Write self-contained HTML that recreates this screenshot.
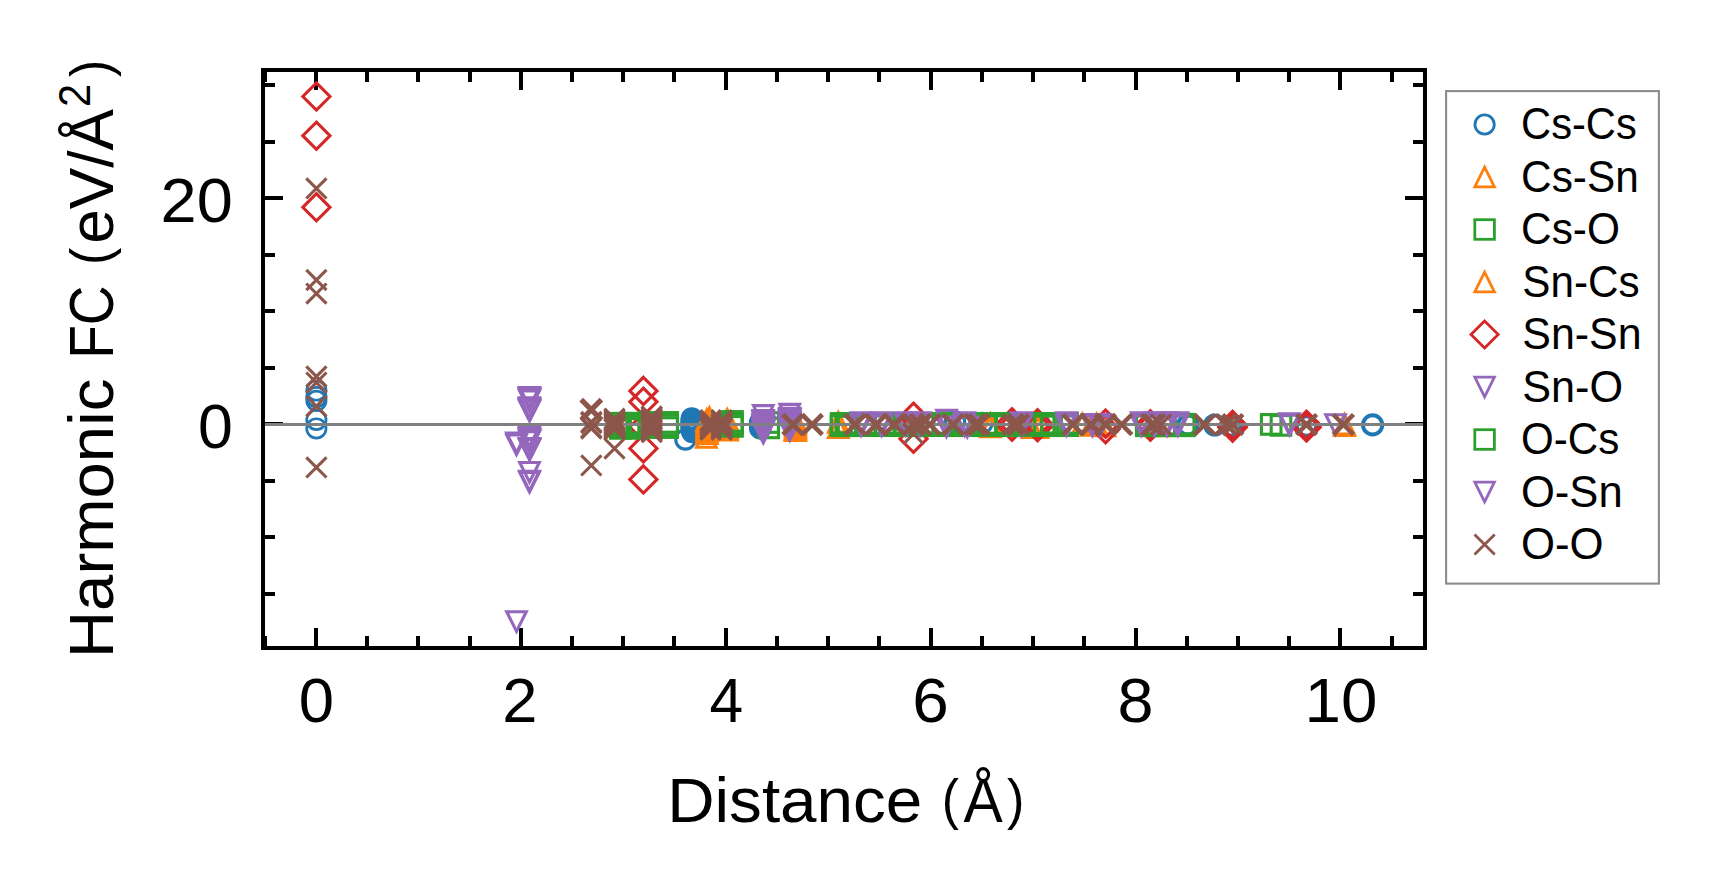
<!DOCTYPE html>
<html lang="en"><head><meta charset="utf-8"><title>Harmonic FC vs Distance</title>
<style>html,body{margin:0;padding:0;background:#fff}svg{display:block}text{font-family:"Liberation Sans",sans-serif;fill:#000}</style></head><body>
<svg width="1718" height="893" viewBox="0 0 1718 893">
<rect width="1718" height="893" fill="#fff"/>
<path d="M316 648.0v-20M316 70.0v20M521 648.0v-20M521 70.0v20M726 648.0v-20M726 70.0v20M931 648.0v-20M931 70.0v20M1136 648.0v-20M1136 70.0v20M1340 648.0v-20M1340 70.0v20M265 648.0v-12M265 70.0v12M367 648.0v-12M367 70.0v12M418 648.0v-12M418 70.0v12M470 648.0v-12M470 70.0v12M572 648.0v-12M572 70.0v12M623 648.0v-12M623 70.0v12M674 648.0v-12M674 70.0v12M777 648.0v-12M777 70.0v12M828 648.0v-12M828 70.0v12M879 648.0v-12M879 70.0v12M982 648.0v-12M982 70.0v12M1033 648.0v-12M1033 70.0v12M1084 648.0v-12M1084 70.0v12M1187 648.0v-12M1187 70.0v12M1238 648.0v-12M1238 70.0v12M1289 648.0v-12M1289 70.0v12M1392 648.0v-12M1392 70.0v12M263.0 424h20M1425.0 424h-20M263.0 198h20M1425.0 198h-20M263.0 594h12M1425.0 594h-12M263.0 537h12M1425.0 537h-12M263.0 481h12M1425.0 481h-12M263.0 368h12M1425.0 368h-12M263.0 311h12M1425.0 311h-12M263.0 255h12M1425.0 255h-12M263.0 142h12M1425.0 142h-12M263.0 85h12M1425.0 85h-12" stroke="#000" stroke-width="4" fill="none"/>
<clipPath id="ax"><rect x="263.0" y="70.0" width="1162.0" height="578.0"/></clipPath>
<g clip-path="url(#ax)" stroke-linejoin="miter" stroke-miterlimit="10">
<g>
<circle cx="316.4" cy="390.6" r="9.65" stroke="#1f77b4" stroke-width="2.7" fill="none"/>
<circle cx="316.4" cy="397.1" r="9.65" stroke="#1f77b4" stroke-width="2.7" fill="none"/>
<circle cx="316.4" cy="400.8" r="9.65" stroke="#1f77b4" stroke-width="2.7" fill="none"/>
<circle cx="316.4" cy="419.9" r="9.65" stroke="#1f77b4" stroke-width="2.7" fill="none"/>
<circle cx="316.4" cy="428.4" r="9.65" stroke="#1f77b4" stroke-width="2.7" fill="none"/>
<circle cx="685.4" cy="439.5" r="9.65" stroke="#1f77b4" stroke-width="3.1" fill="none"/>
<circle cx="691.8" cy="418.4" r="9.65" stroke="#1f77b4" stroke-width="3.1" fill="none"/>
<circle cx="691.8" cy="419.7" r="9.65" stroke="#1f77b4" stroke-width="3.1" fill="none"/>
<circle cx="691.8" cy="421.0" r="9.65" stroke="#1f77b4" stroke-width="3.1" fill="none"/>
<circle cx="691.8" cy="422.3" r="9.65" stroke="#1f77b4" stroke-width="3.1" fill="none"/>
<circle cx="691.8" cy="423.6" r="9.65" stroke="#1f77b4" stroke-width="3.1" fill="none"/>
<circle cx="691.8" cy="425.0" r="9.65" stroke="#1f77b4" stroke-width="3.1" fill="none"/>
<circle cx="691.8" cy="426.3" r="9.65" stroke="#1f77b4" stroke-width="3.1" fill="none"/>
<circle cx="691.8" cy="427.6" r="9.65" stroke="#1f77b4" stroke-width="3.1" fill="none"/>
<circle cx="691.8" cy="428.9" r="9.65" stroke="#1f77b4" stroke-width="3.1" fill="none"/>
<circle cx="691.8" cy="430.2" r="9.65" stroke="#1f77b4" stroke-width="3.1" fill="none"/>
<circle cx="692.3" cy="432.0" r="9.65" stroke="#1f77b4" stroke-width="3.1" fill="none"/>
<circle cx="760.3" cy="422.1" r="9.65" stroke="#1f77b4" stroke-width="3.1" fill="none"/>
<circle cx="760.3" cy="422.9" r="9.65" stroke="#1f77b4" stroke-width="3.1" fill="none"/>
<circle cx="760.3" cy="425.1" r="9.65" stroke="#1f77b4" stroke-width="3.1" fill="none"/>
<circle cx="760.3" cy="425.9" r="9.65" stroke="#1f77b4" stroke-width="3.1" fill="none"/>
<circle cx="760.3" cy="427.6" r="9.65" stroke="#1f77b4" stroke-width="3.1" fill="none"/>
<circle cx="760.3" cy="428.4" r="9.65" stroke="#1f77b4" stroke-width="3.1" fill="none"/>
<circle cx="913.5" cy="425.0" r="9.65" stroke="#1f77b4" stroke-width="3.1" fill="none"/>
<circle cx="955.0" cy="421.5" r="9.65" stroke="#1f77b4" stroke-width="3.1" fill="none"/>
<circle cx="982.5" cy="423.0" r="9.65" stroke="#1f77b4" stroke-width="3.1" fill="none"/>
<circle cx="1040.0" cy="425.0" r="9.65" stroke="#1f77b4" stroke-width="3.1" fill="none"/>
<circle cx="1187.8" cy="424.9" r="9.65" stroke="#1f77b4" stroke-width="3.9" fill="none"/>
<circle cx="1214.7" cy="425.0" r="9.65" stroke="#1f77b4" stroke-width="3.9" fill="none"/>
<circle cx="1231.0" cy="426.0" r="9.65" stroke="#1f77b4" stroke-width="3.9" fill="none"/>
<circle cx="1306.5" cy="426.0" r="9.65" stroke="#1f77b4" stroke-width="3.9" fill="none"/>
<circle cx="1372.6" cy="424.9" r="9.65" stroke="#1f77b4" stroke-width="3.9" fill="none"/>
</g>
<g>
<path d="M709.4 407.9L699.6 427.5L719.2 427.5Z" stroke="#ff7f0e" stroke-width="3.1" fill="none"/>
<path d="M706.8 410.0L697.0 429.6L716.6 429.6Z" stroke="#ff7f0e" stroke-width="3.1" fill="none"/>
<path d="M707.0 411.2L697.2 430.8L716.8 430.8Z" stroke="#ff7f0e" stroke-width="3.1" fill="none"/>
<path d="M707.0 412.6L697.2 432.2L716.8 432.2Z" stroke="#ff7f0e" stroke-width="3.1" fill="none"/>
<path d="M707.0 414.0L697.2 433.6L716.8 433.6Z" stroke="#ff7f0e" stroke-width="3.1" fill="none"/>
<path d="M707.0 415.4L697.2 435.0L716.8 435.0Z" stroke="#ff7f0e" stroke-width="3.1" fill="none"/>
<path d="M707.0 416.8L697.2 436.4L716.8 436.4Z" stroke="#ff7f0e" stroke-width="3.1" fill="none"/>
<path d="M707.0 418.2L697.2 437.8L716.8 437.8Z" stroke="#ff7f0e" stroke-width="3.1" fill="none"/>
<path d="M707.0 419.6L697.2 439.2L716.8 439.2Z" stroke="#ff7f0e" stroke-width="3.1" fill="none"/>
<path d="M707.0 421.0L697.2 440.6L716.8 440.6Z" stroke="#ff7f0e" stroke-width="3.1" fill="none"/>
<path d="M707.0 422.4L697.2 442.0L716.8 442.0Z" stroke="#ff7f0e" stroke-width="3.1" fill="none"/>
<path d="M707.0 423.8L697.2 443.4L716.8 443.4Z" stroke="#ff7f0e" stroke-width="3.1" fill="none"/>
<path d="M706.3 427.6L696.5 447.2L716.1 447.2Z" stroke="#ff7f0e" stroke-width="3.1" fill="none"/>
<path d="M727.2 409.6L717.4 429.2L737.0 429.2Z" stroke="#ff7f0e" stroke-width="3.1" fill="none"/>
<path d="M727.2 410.9L717.4 430.6L737.0 430.6Z" stroke="#ff7f0e" stroke-width="3.1" fill="none"/>
<path d="M727.2 412.3L717.4 431.9L737.0 431.9Z" stroke="#ff7f0e" stroke-width="3.1" fill="none"/>
<path d="M727.2 413.6L717.4 433.2L737.0 433.2Z" stroke="#ff7f0e" stroke-width="3.1" fill="none"/>
<path d="M727.2 415.0L717.4 434.6L737.0 434.6Z" stroke="#ff7f0e" stroke-width="3.1" fill="none"/>
<path d="M727.2 416.3L717.4 435.9L737.0 435.9Z" stroke="#ff7f0e" stroke-width="3.1" fill="none"/>
<path d="M727.2 417.7L717.4 437.3L737.0 437.3Z" stroke="#ff7f0e" stroke-width="3.1" fill="none"/>
<path d="M727.2 419.0L717.4 438.6L737.0 438.6Z" stroke="#ff7f0e" stroke-width="3.1" fill="none"/>
<path d="M727.2 420.4L717.4 440.0L737.0 440.0Z" stroke="#ff7f0e" stroke-width="3.1" fill="none"/>
<path d="M795.5 411.2L785.7 430.8L805.3 430.8Z" stroke="#ff7f0e" stroke-width="3.1" fill="none"/>
<path d="M795.5 412.8L785.7 432.4L805.3 432.4Z" stroke="#ff7f0e" stroke-width="3.1" fill="none"/>
<path d="M795.5 414.4L785.7 434.0L805.3 434.0Z" stroke="#ff7f0e" stroke-width="3.1" fill="none"/>
<path d="M795.5 416.0L785.7 435.6L805.3 435.6Z" stroke="#ff7f0e" stroke-width="3.1" fill="none"/>
<path d="M795.5 417.6L785.7 437.2L805.3 437.2Z" stroke="#ff7f0e" stroke-width="3.1" fill="none"/>
<path d="M795.5 419.2L785.7 438.8L805.3 438.8Z" stroke="#ff7f0e" stroke-width="3.1" fill="none"/>
<path d="M795.5 420.8L785.7 440.4L805.3 440.4Z" stroke="#ff7f0e" stroke-width="3.1" fill="none"/>
<path d="M795.2 420.0L785.4 439.6L805.0 439.6Z" stroke="#ff7f0e" stroke-width="3.1" fill="none"/>
<path d="M838.3 412.5L828.5 432.1L848.1 432.1Z" stroke="#ff7f0e" stroke-width="3.1" fill="none"/>
<path d="M838.3 417.8L828.5 437.4L848.1 437.4Z" stroke="#ff7f0e" stroke-width="3.1" fill="none"/>
<path d="M990.5 413.9L980.7 433.5L1000.3 433.5Z" stroke="#ff7f0e" stroke-width="3.1" fill="none"/>
<path d="M990.5 417.1L980.7 436.7L1000.3 436.7Z" stroke="#ff7f0e" stroke-width="3.1" fill="none"/>
<path d="M1030.0 414.2L1020.2 433.8L1039.8 433.8Z" stroke="#ff7f0e" stroke-width="3.1" fill="none"/>
<path d="M1032.0 417.8L1022.2 437.4L1041.8 437.4Z" stroke="#ff7f0e" stroke-width="3.1" fill="none"/>
<path d="M1038.0 417.8L1028.2 437.4L1047.8 437.4Z" stroke="#ff7f0e" stroke-width="3.1" fill="none"/>
<path d="M1082.4 414.2L1072.6 433.8L1092.2 433.8Z" stroke="#ff7f0e" stroke-width="3.1" fill="none"/>
<path d="M1096.5 414.2L1086.7 433.8L1106.3 433.8Z" stroke="#ff7f0e" stroke-width="3.1" fill="none"/>
<path d="M1091.2 415.7L1081.4 435.3L1101.0 435.3Z" stroke="#ff7f0e" stroke-width="3.1" fill="none"/>
<path d="M1105.0 416.2L1095.2 435.8L1114.8 435.8Z" stroke="#ff7f0e" stroke-width="3.1" fill="none"/>
<path d="M1160.0 416.2L1150.2 435.8L1169.8 435.8Z" stroke="#ff7f0e" stroke-width="3.1" fill="none"/>
<path d="M1344.5 414.5L1334.7 434.1L1354.3 434.1Z" stroke="#ff7f0e" stroke-width="3.1" fill="none"/>
<path d="M1344.5 415.8L1334.7 435.4L1354.3 435.4Z" stroke="#ff7f0e" stroke-width="3.1" fill="none"/>
</g>
<g>
<path d="M316.4 82.9L330.0 96.5L316.4 110.1L302.8 96.5Z" stroke="#d62728" stroke-width="3.1" fill="none"/>
<path d="M316.4 122.1L330.0 135.7L316.4 149.3L302.8 135.7Z" stroke="#d62728" stroke-width="3.1" fill="none"/>
<path d="M316.4 193.7L330.0 207.3L316.4 220.9L302.8 207.3Z" stroke="#d62728" stroke-width="3.1" fill="none"/>
<path d="M643.4 377.3L657.0 390.9L643.4 404.5L629.8 390.9Z" stroke="#d62728" stroke-width="3.1" fill="none"/>
<path d="M643.4 388.2L657.0 401.8L643.4 415.4L629.8 401.8Z" stroke="#d62728" stroke-width="3.1" fill="none"/>
<path d="M643.4 434.8L657.0 448.4L643.4 462.0L629.8 448.4Z" stroke="#d62728" stroke-width="3.1" fill="none"/>
<path d="M643.4 465.8L657.0 479.4L643.4 493.0L629.8 479.4Z" stroke="#d62728" stroke-width="3.1" fill="none"/>
<path d="M643.4 413.4L657.0 427.0L643.4 440.6L629.8 427.0Z" stroke="#d62728" stroke-width="3.1" fill="none"/>
<path d="M913.5 403.2L927.1 416.8L913.5 430.4L899.9 416.8Z" stroke="#d62728" stroke-width="3.1" fill="none"/>
<path d="M913.5 425.2L927.1 438.8L913.5 452.4L899.9 438.8Z" stroke="#d62728" stroke-width="3.1" fill="none"/>
<path d="M1012.0 408.6L1025.6 422.2L1012.0 435.8L998.4 422.2Z" stroke="#d62728" stroke-width="3.1" fill="none"/>
<path d="M1012.0 413.0L1025.6 426.6L1012.0 440.2L998.4 426.6Z" stroke="#d62728" stroke-width="3.1" fill="none"/>
<path d="M1037.5 409.6L1051.1 423.2L1037.5 436.8L1023.9 423.2Z" stroke="#d62728" stroke-width="3.1" fill="none"/>
<path d="M1037.5 413.6L1051.1 427.2L1037.5 440.8L1023.9 427.2Z" stroke="#d62728" stroke-width="3.1" fill="none"/>
<path d="M1105.6 410.0L1119.2 423.6L1105.6 437.2L1092.0 423.6Z" stroke="#d62728" stroke-width="3.1" fill="none"/>
<path d="M1105.6 415.6L1119.2 429.2L1105.6 442.8L1092.0 429.2Z" stroke="#d62728" stroke-width="3.1" fill="none"/>
<path d="M1150.4 410.6L1164.0 424.2L1150.4 437.8L1136.8 424.2Z" stroke="#d62728" stroke-width="3.1" fill="none"/>
<path d="M1150.4 413.2L1164.0 426.8L1150.4 440.4L1136.8 426.8Z" stroke="#d62728" stroke-width="3.1" fill="none"/>
<path d="M1232.6 411.3L1246.2 424.9L1232.6 438.5L1219.0 424.9Z" stroke="#d62728" stroke-width="3.1" fill="none"/>
<path d="M1232.6 412.6L1246.2 426.2L1232.6 439.8L1219.0 426.2Z" stroke="#d62728" stroke-width="3.1" fill="none"/>
<path d="M1232.6 414.0L1246.2 427.6L1232.6 441.2L1219.0 427.6Z" stroke="#d62728" stroke-width="3.1" fill="none"/>
<path d="M1306.5 411.2L1320.1 424.8L1306.5 438.4L1292.9 424.8Z" stroke="#d62728" stroke-width="3.1" fill="none"/>
<path d="M1306.5 412.5L1320.1 426.1L1306.5 439.7L1292.9 426.1Z" stroke="#d62728" stroke-width="3.1" fill="none"/>
<path d="M1306.5 413.8L1320.1 427.4L1306.5 441.0L1292.9 427.4Z" stroke="#d62728" stroke-width="3.1" fill="none"/>
</g>
<g>
<rect x="610.6" y="413.4" width="19.6" height="19.6" stroke="#2ca02c" stroke-width="3.1" fill="none"/>
<rect x="610.6" y="416.0" width="19.6" height="19.6" stroke="#2ca02c" stroke-width="3.1" fill="none"/>
<rect x="610.6" y="418.6" width="19.6" height="19.6" stroke="#2ca02c" stroke-width="3.1" fill="none"/>
<rect x="627.2" y="413.4" width="19.6" height="19.6" stroke="#2ca02c" stroke-width="3.1" fill="none"/>
<rect x="627.2" y="416.0" width="19.6" height="19.6" stroke="#2ca02c" stroke-width="3.1" fill="none"/>
<rect x="627.2" y="418.6" width="19.6" height="19.6" stroke="#2ca02c" stroke-width="3.1" fill="none"/>
<rect x="639.2" y="412.6" width="19.6" height="19.6" stroke="#2ca02c" stroke-width="3.1" fill="none"/>
<rect x="639.2" y="415.2" width="19.6" height="19.6" stroke="#2ca02c" stroke-width="3.1" fill="none"/>
<rect x="639.2" y="417.8" width="19.6" height="19.6" stroke="#2ca02c" stroke-width="3.1" fill="none"/>
<rect x="657.9" y="412.6" width="19.6" height="19.6" stroke="#2ca02c" stroke-width="3.1" fill="none"/>
<rect x="657.9" y="415.2" width="19.6" height="19.6" stroke="#2ca02c" stroke-width="3.1" fill="none"/>
<rect x="657.9" y="417.8" width="19.6" height="19.6" stroke="#2ca02c" stroke-width="3.1" fill="none"/>
<rect x="722.7" y="411.6" width="19.6" height="19.6" stroke="#2ca02c" stroke-width="3.1" fill="none"/>
<rect x="722.7" y="414.2" width="19.6" height="19.6" stroke="#2ca02c" stroke-width="3.1" fill="none"/>
<rect x="722.7" y="416.6" width="19.6" height="19.6" stroke="#2ca02c" stroke-width="3.1" fill="none"/>
<rect x="758.9" y="412.7" width="19.6" height="19.6" stroke="#2ca02c" stroke-width="3.1" fill="none"/>
<rect x="758.9" y="418.1" width="19.6" height="19.6" stroke="#2ca02c" stroke-width="3.1" fill="none"/>
<rect x="831.3" y="413.6" width="19.6" height="19.6" stroke="#2ca02c" stroke-width="3.1" fill="none"/>
<rect x="831.3" y="415.9" width="19.6" height="19.6" stroke="#2ca02c" stroke-width="3.1" fill="none"/>
<rect x="836.3" y="413.6" width="19.6" height="19.6" stroke="#2ca02c" stroke-width="3.1" fill="none"/>
<rect x="836.3" y="415.9" width="19.6" height="19.6" stroke="#2ca02c" stroke-width="3.1" fill="none"/>
<rect x="838.1" y="413.6" width="19.6" height="19.6" stroke="#2ca02c" stroke-width="3.1" fill="none"/>
<rect x="838.1" y="415.9" width="19.6" height="19.6" stroke="#2ca02c" stroke-width="3.1" fill="none"/>
<rect x="855.8" y="413.6" width="19.6" height="19.6" stroke="#2ca02c" stroke-width="3.1" fill="none"/>
<rect x="855.8" y="415.9" width="19.6" height="19.6" stroke="#2ca02c" stroke-width="3.1" fill="none"/>
<rect x="875.4" y="413.6" width="19.6" height="19.6" stroke="#2ca02c" stroke-width="3.1" fill="none"/>
<rect x="875.4" y="415.9" width="19.6" height="19.6" stroke="#2ca02c" stroke-width="3.1" fill="none"/>
<rect x="894.2" y="413.6" width="19.6" height="19.6" stroke="#2ca02c" stroke-width="3.1" fill="none"/>
<rect x="894.2" y="415.9" width="19.6" height="19.6" stroke="#2ca02c" stroke-width="3.1" fill="none"/>
<rect x="913.5" y="413.6" width="19.6" height="19.6" stroke="#2ca02c" stroke-width="3.1" fill="none"/>
<rect x="913.5" y="415.9" width="19.6" height="19.6" stroke="#2ca02c" stroke-width="3.1" fill="none"/>
<rect x="933.6" y="413.6" width="19.6" height="19.6" stroke="#2ca02c" stroke-width="3.1" fill="none"/>
<rect x="933.6" y="415.9" width="19.6" height="19.6" stroke="#2ca02c" stroke-width="3.1" fill="none"/>
<rect x="954.3" y="413.6" width="19.6" height="19.6" stroke="#2ca02c" stroke-width="3.1" fill="none"/>
<rect x="954.3" y="415.9" width="19.6" height="19.6" stroke="#2ca02c" stroke-width="3.1" fill="none"/>
<rect x="976.5" y="413.6" width="19.6" height="19.6" stroke="#2ca02c" stroke-width="3.1" fill="none"/>
<rect x="976.5" y="415.9" width="19.6" height="19.6" stroke="#2ca02c" stroke-width="3.1" fill="none"/>
<rect x="996.1" y="413.6" width="19.6" height="19.6" stroke="#2ca02c" stroke-width="3.1" fill="none"/>
<rect x="996.1" y="415.9" width="19.6" height="19.6" stroke="#2ca02c" stroke-width="3.1" fill="none"/>
<rect x="1014.9" y="413.6" width="19.6" height="19.6" stroke="#2ca02c" stroke-width="3.1" fill="none"/>
<rect x="1014.9" y="415.9" width="19.6" height="19.6" stroke="#2ca02c" stroke-width="3.1" fill="none"/>
<rect x="1034.6" y="413.6" width="19.6" height="19.6" stroke="#2ca02c" stroke-width="3.1" fill="none"/>
<rect x="1034.6" y="415.9" width="19.6" height="19.6" stroke="#2ca02c" stroke-width="3.1" fill="none"/>
<rect x="1041.6" y="413.6" width="19.6" height="19.6" stroke="#2ca02c" stroke-width="3.1" fill="none"/>
<rect x="1041.6" y="415.9" width="19.6" height="19.6" stroke="#2ca02c" stroke-width="3.1" fill="none"/>
<rect x="1057.8" y="413.6" width="19.6" height="19.6" stroke="#2ca02c" stroke-width="3.1" fill="none"/>
<rect x="1057.8" y="415.9" width="19.6" height="19.6" stroke="#2ca02c" stroke-width="3.1" fill="none"/>
<rect x="1136.5" y="414.4" width="19.6" height="19.6" stroke="#2ca02c" stroke-width="3.1" fill="none"/>
<rect x="1136.5" y="416.0" width="19.6" height="19.6" stroke="#2ca02c" stroke-width="3.1" fill="none"/>
<rect x="1155.5" y="414.4" width="19.6" height="19.6" stroke="#2ca02c" stroke-width="3.1" fill="none"/>
<rect x="1155.5" y="416.0" width="19.6" height="19.6" stroke="#2ca02c" stroke-width="3.1" fill="none"/>
<rect x="1174.6" y="414.4" width="19.6" height="19.6" stroke="#2ca02c" stroke-width="3.1" fill="none"/>
<rect x="1174.6" y="416.0" width="19.6" height="19.6" stroke="#2ca02c" stroke-width="3.1" fill="none"/>
<rect x="1261.4" y="414.6" width="19.6" height="19.6" stroke="#2ca02c" stroke-width="3.1" fill="none"/>
<rect x="1271.2" y="415.6" width="19.6" height="19.6" stroke="#2ca02c" stroke-width="3.1" fill="none"/>
</g>
<g>
<path d="M529.5 407.2L519.7 387.6L539.3 387.6Z" stroke="#9467bd" stroke-width="3.1" fill="none"/>
<path d="M529.5 408.3L519.7 388.7L539.3 388.7Z" stroke="#9467bd" stroke-width="3.1" fill="none"/>
<path d="M529.5 409.5L519.7 389.9L539.3 389.9Z" stroke="#9467bd" stroke-width="3.1" fill="none"/>
<path d="M529.5 410.6L519.7 391.0L539.3 391.0Z" stroke="#9467bd" stroke-width="3.1" fill="none"/>
<path d="M529.5 417.5L519.7 397.9L539.3 397.9Z" stroke="#9467bd" stroke-width="3.1" fill="none"/>
<path d="M529.5 418.6L519.7 399.0L539.3 399.0Z" stroke="#9467bd" stroke-width="3.1" fill="none"/>
<path d="M529.5 419.7L519.7 400.1L539.3 400.1Z" stroke="#9467bd" stroke-width="3.1" fill="none"/>
<path d="M529.5 420.8L519.7 401.2L539.3 401.2Z" stroke="#9467bd" stroke-width="3.1" fill="none"/>
<path d="M529.5 446.4L519.7 426.8L539.3 426.8Z" stroke="#9467bd" stroke-width="3.1" fill="none"/>
<path d="M529.5 447.6L519.7 428.0L539.3 428.0Z" stroke="#9467bd" stroke-width="3.1" fill="none"/>
<path d="M529.5 448.9L519.7 429.2L539.3 429.2Z" stroke="#9467bd" stroke-width="3.1" fill="none"/>
<path d="M529.5 450.1L519.7 430.5L539.3 430.5Z" stroke="#9467bd" stroke-width="3.1" fill="none"/>
<path d="M529.5 451.3L519.7 431.7L539.3 431.7Z" stroke="#9467bd" stroke-width="3.1" fill="none"/>
<path d="M529.5 458.1L519.7 438.5L539.3 438.5Z" stroke="#9467bd" stroke-width="3.1" fill="none"/>
<path d="M529.5 458.8L519.7 439.2L539.3 439.2Z" stroke="#9467bd" stroke-width="3.1" fill="none"/>
<path d="M529.5 459.4L519.7 439.8L539.3 439.8Z" stroke="#9467bd" stroke-width="3.1" fill="none"/>
<path d="M529.5 482.1L519.7 462.5L539.3 462.5Z" stroke="#9467bd" stroke-width="3.1" fill="none"/>
<path d="M529.5 490.8L519.7 471.2L539.3 471.2Z" stroke="#9467bd" stroke-width="3.1" fill="none"/>
<path d="M529.5 492.0L519.7 472.4L539.3 472.4Z" stroke="#9467bd" stroke-width="3.1" fill="none"/>
<path d="M529.0 408.3L519.2 388.7L538.8 388.7Z" stroke="#9467bd" stroke-width="3.1" fill="none"/>
<path d="M529.0 418.8L519.2 399.2L538.8 399.2Z" stroke="#9467bd" stroke-width="3.1" fill="none"/>
<path d="M529.0 448.3L519.2 428.7L538.8 428.7Z" stroke="#9467bd" stroke-width="3.1" fill="none"/>
<path d="M529.0 458.6L519.2 439.0L538.8 439.0Z" stroke="#9467bd" stroke-width="3.1" fill="none"/>
<path d="M530.0 408.8L520.2 389.2L539.8 389.2Z" stroke="#9467bd" stroke-width="3.1" fill="none"/>
<path d="M530.0 419.8L520.2 400.2L539.8 400.2Z" stroke="#9467bd" stroke-width="3.1" fill="none"/>
<path d="M530.0 449.8L520.2 430.2L539.8 430.2Z" stroke="#9467bd" stroke-width="3.1" fill="none"/>
<path d="M530.0 459.1L520.2 439.5L539.8 439.5Z" stroke="#9467bd" stroke-width="3.1" fill="none"/>
<path d="M516.5 452.7L506.7 433.1L526.3 433.1Z" stroke="#9467bd" stroke-width="3.1" fill="none"/>
<path d="M516.5 454.6L506.7 435.0L526.3 435.0Z" stroke="#9467bd" stroke-width="3.1" fill="none"/>
<path d="M516.5 631.4L506.7 611.8L526.3 611.8Z" stroke="#9467bd" stroke-width="3.1" fill="none"/>
<path d="M763.3 425.2L753.5 405.6L773.1 405.6Z" stroke="#9467bd" stroke-width="3.1" fill="none"/>
<path d="M763.3 430.2L753.5 410.6L773.1 410.6Z" stroke="#9467bd" stroke-width="3.1" fill="none"/>
<path d="M763.3 431.6L753.5 412.0L773.1 412.0Z" stroke="#9467bd" stroke-width="3.1" fill="none"/>
<path d="M763.3 433.0L753.5 413.4L773.1 413.4Z" stroke="#9467bd" stroke-width="3.1" fill="none"/>
<path d="M763.3 434.4L753.5 414.8L773.1 414.8Z" stroke="#9467bd" stroke-width="3.1" fill="none"/>
<path d="M763.3 435.8L753.5 416.2L773.1 416.2Z" stroke="#9467bd" stroke-width="3.1" fill="none"/>
<path d="M763.3 437.2L753.5 417.6L773.1 417.6Z" stroke="#9467bd" stroke-width="3.1" fill="none"/>
<path d="M763.3 438.6L753.5 419.0L773.1 419.0Z" stroke="#9467bd" stroke-width="3.1" fill="none"/>
<path d="M763.3 440.0L753.5 420.4L773.1 420.4Z" stroke="#9467bd" stroke-width="3.1" fill="none"/>
<path d="M763.3 441.4L753.5 421.8L773.1 421.8Z" stroke="#9467bd" stroke-width="3.1" fill="none"/>
<path d="M763.3 442.8L753.5 423.2L773.1 423.2Z" stroke="#9467bd" stroke-width="3.1" fill="none"/>
<path d="M762.8 430.8L753.0 411.2L772.6 411.2Z" stroke="#9467bd" stroke-width="3.1" fill="none"/>
<path d="M762.8 434.8L753.0 415.2L772.6 415.2Z" stroke="#9467bd" stroke-width="3.1" fill="none"/>
<path d="M762.8 438.8L753.0 419.2L772.6 419.2Z" stroke="#9467bd" stroke-width="3.1" fill="none"/>
<path d="M763.8 432.8L754.0 413.2L773.6 413.2Z" stroke="#9467bd" stroke-width="3.1" fill="none"/>
<path d="M763.8 436.8L754.0 417.2L773.6 417.2Z" stroke="#9467bd" stroke-width="3.1" fill="none"/>
<path d="M763.8 440.8L754.0 421.2L773.6 421.2Z" stroke="#9467bd" stroke-width="3.1" fill="none"/>
<path d="M789.7 424.0L779.9 404.4L799.5 404.4Z" stroke="#9467bd" stroke-width="3.1" fill="none"/>
<path d="M789.7 428.0L779.9 408.4L799.5 408.4Z" stroke="#9467bd" stroke-width="3.1" fill="none"/>
<path d="M789.7 429.4L779.9 409.8L799.5 409.8Z" stroke="#9467bd" stroke-width="3.1" fill="none"/>
<path d="M789.7 430.7L779.9 411.1L799.5 411.1Z" stroke="#9467bd" stroke-width="3.1" fill="none"/>
<path d="M789.7 432.1L779.9 412.5L799.5 412.5Z" stroke="#9467bd" stroke-width="3.1" fill="none"/>
<path d="M789.7 433.4L779.9 413.8L799.5 413.8Z" stroke="#9467bd" stroke-width="3.1" fill="none"/>
<path d="M789.7 434.8L779.9 415.2L799.5 415.2Z" stroke="#9467bd" stroke-width="3.1" fill="none"/>
<path d="M789.7 436.1L779.9 416.5L799.5 416.5Z" stroke="#9467bd" stroke-width="3.1" fill="none"/>
<path d="M789.7 437.5L779.9 417.9L799.5 417.9Z" stroke="#9467bd" stroke-width="3.1" fill="none"/>
<path d="M789.7 438.8L779.9 419.2L799.5 419.2Z" stroke="#9467bd" stroke-width="3.1" fill="none"/>
<path d="M789.7 440.2L779.9 420.6L799.5 420.6Z" stroke="#9467bd" stroke-width="3.1" fill="none"/>
<path d="M789.2 429.8L779.4 410.2L799.0 410.2Z" stroke="#9467bd" stroke-width="3.1" fill="none"/>
<path d="M789.2 433.8L779.4 414.2L799.0 414.2Z" stroke="#9467bd" stroke-width="3.1" fill="none"/>
<path d="M789.2 437.8L779.4 418.2L799.0 418.2Z" stroke="#9467bd" stroke-width="3.1" fill="none"/>
<path d="M790.2 428.8L780.4 409.2L800.0 409.2Z" stroke="#9467bd" stroke-width="3.1" fill="none"/>
<path d="M790.2 431.8L780.4 412.2L800.0 412.2Z" stroke="#9467bd" stroke-width="3.1" fill="none"/>
<path d="M790.2 435.8L780.4 416.2L800.0 416.2Z" stroke="#9467bd" stroke-width="3.1" fill="none"/>
<path d="M861.1 432.4L851.3 412.8L870.9 412.8Z" stroke="#9467bd" stroke-width="3.1" fill="none"/>
<path d="M861.1 435.4L851.3 415.8L870.9 415.8Z" stroke="#9467bd" stroke-width="3.1" fill="none"/>
<path d="M881.5 432.4L871.7 412.8L891.3 412.8Z" stroke="#9467bd" stroke-width="3.1" fill="none"/>
<path d="M881.5 435.4L871.7 415.8L891.3 415.8Z" stroke="#9467bd" stroke-width="3.1" fill="none"/>
<path d="M905.8 432.4L896.0 412.8L915.6 412.8Z" stroke="#9467bd" stroke-width="3.1" fill="none"/>
<path d="M905.8 435.4L896.0 415.8L915.6 415.8Z" stroke="#9467bd" stroke-width="3.1" fill="none"/>
<path d="M920.2 432.4L910.4 412.8L930.0 412.8Z" stroke="#9467bd" stroke-width="3.1" fill="none"/>
<path d="M920.2 435.4L910.4 415.8L930.0 415.8Z" stroke="#9467bd" stroke-width="3.1" fill="none"/>
<path d="M964.6 432.4L954.8 412.8L974.4 412.8Z" stroke="#9467bd" stroke-width="3.1" fill="none"/>
<path d="M964.6 435.4L954.8 415.8L974.4 415.8Z" stroke="#9467bd" stroke-width="3.1" fill="none"/>
<path d="M1021.4 432.4L1011.6 412.8L1031.2 412.8Z" stroke="#9467bd" stroke-width="3.1" fill="none"/>
<path d="M1021.4 435.4L1011.6 415.8L1031.2 415.8Z" stroke="#9467bd" stroke-width="3.1" fill="none"/>
<path d="M1066.5 432.4L1056.7 412.8L1076.3 412.8Z" stroke="#9467bd" stroke-width="3.1" fill="none"/>
<path d="M1066.5 435.4L1056.7 415.8L1076.3 415.8Z" stroke="#9467bd" stroke-width="3.1" fill="none"/>
<path d="M1141.4 432.4L1131.6 412.8L1151.2 412.8Z" stroke="#9467bd" stroke-width="3.1" fill="none"/>
<path d="M1141.4 435.4L1131.6 415.8L1151.2 415.8Z" stroke="#9467bd" stroke-width="3.1" fill="none"/>
<path d="M1154.5 432.4L1144.7 412.8L1164.3 412.8Z" stroke="#9467bd" stroke-width="3.1" fill="none"/>
<path d="M1154.5 435.4L1144.7 415.8L1164.3 415.8Z" stroke="#9467bd" stroke-width="3.1" fill="none"/>
<path d="M1167.0 432.4L1157.2 412.8L1176.8 412.8Z" stroke="#9467bd" stroke-width="3.1" fill="none"/>
<path d="M1167.0 435.4L1157.2 415.8L1176.8 415.8Z" stroke="#9467bd" stroke-width="3.1" fill="none"/>
<path d="M1177.7 432.4L1167.9 412.8L1187.5 412.8Z" stroke="#9467bd" stroke-width="3.1" fill="none"/>
<path d="M1177.7 435.4L1167.9 415.8L1187.5 415.8Z" stroke="#9467bd" stroke-width="3.1" fill="none"/>
<path d="M1092.4 434.1L1082.6 414.5L1102.2 414.5Z" stroke="#9467bd" stroke-width="3.1" fill="none"/>
<path d="M1092.4 435.6L1082.6 416.0L1102.2 416.0Z" stroke="#9467bd" stroke-width="3.1" fill="none"/>
<path d="M1100.0 434.1L1090.2 414.5L1109.8 414.5Z" stroke="#9467bd" stroke-width="3.1" fill="none"/>
<path d="M1100.0 435.6L1090.2 416.0L1109.8 416.0Z" stroke="#9467bd" stroke-width="3.1" fill="none"/>
<path d="M946.5 430.0L936.7 410.4L956.3 410.4Z" stroke="#9467bd" stroke-width="3.1" fill="none"/>
<path d="M946.5 436.6L936.7 417.0L956.3 417.0Z" stroke="#9467bd" stroke-width="3.1" fill="none"/>
<path d="M967.3 436.8L957.5 417.2L977.1 417.2Z" stroke="#9467bd" stroke-width="3.1" fill="none"/>
<path d="M1289.5 433.4L1279.7 413.8L1299.3 413.8Z" stroke="#9467bd" stroke-width="3.1" fill="none"/>
<path d="M1289.5 434.8L1279.7 415.2L1299.3 415.2Z" stroke="#9467bd" stroke-width="3.1" fill="none"/>
<path d="M1335.5 434.3L1325.7 414.7L1345.3 414.7Z" stroke="#9467bd" stroke-width="3.1" fill="none"/>
</g>
</g>
<path d="M263.0 424.5H1425.0" stroke="#808080" stroke-width="3.1" fill="none"/>
<g clip-path="url(#ax)">
<path d="M306.3 178.3L326.5 198.5M306.3 198.5L326.5 178.3" stroke="#8c564b" stroke-width="3.1" fill="none"/>
<path d="M306.3 269.9L326.5 290.1M306.3 290.1L326.5 269.9" stroke="#8c564b" stroke-width="3.1" fill="none"/>
<path d="M306.3 283.5L326.5 303.7M306.3 303.7L326.5 283.5" stroke="#8c564b" stroke-width="3.1" fill="none"/>
<path d="M306.3 366.4L326.5 386.6M306.3 386.6L326.5 366.4" stroke="#8c564b" stroke-width="3.1" fill="none"/>
<path d="M306.3 372.5L326.5 392.7M306.3 392.7L326.5 372.5" stroke="#8c564b" stroke-width="3.1" fill="none"/>
<path d="M306.3 396.1L326.5 416.3M306.3 416.3L326.5 396.1" stroke="#8c564b" stroke-width="3.1" fill="none"/>
<path d="M306.3 457.3L326.5 477.5M306.3 477.5L326.5 457.3" stroke="#8c564b" stroke-width="3.1" fill="none"/>
<path d="M581.2 399.7L601.4 419.9M581.2 419.9L601.4 399.7" stroke="#8c564b" stroke-width="5.2" fill="none"/>
<path d="M581.2 411.9L601.4 432.1M581.2 432.1L601.4 411.9" stroke="#8c564b" stroke-width="3.1" fill="none"/>
<path d="M581.2 412.9L601.4 433.1M581.2 433.1L601.4 412.9" stroke="#8c564b" stroke-width="3.1" fill="none"/>
<path d="M581.2 417.5L601.4 437.7M581.2 437.7L601.4 417.5" stroke="#8c564b" stroke-width="3.1" fill="none"/>
<path d="M581.2 418.5L601.4 438.7M581.2 438.7L601.4 418.5" stroke="#8c564b" stroke-width="3.1" fill="none"/>
<path d="M581.2 455.3L601.4 475.5M581.2 475.5L601.4 455.3" stroke="#8c564b" stroke-width="3.1" fill="none"/>
<path d="M604.4 408.6L624.6 428.8M604.4 428.8L624.6 408.6" stroke="#8c564b" stroke-width="3.1" fill="none"/>
<path d="M604.4 410.1L624.6 430.3M604.4 430.3L624.6 410.1" stroke="#8c564b" stroke-width="3.1" fill="none"/>
<path d="M604.4 411.7L624.6 431.9M604.4 431.9L624.6 411.7" stroke="#8c564b" stroke-width="3.1" fill="none"/>
<path d="M604.4 413.2L624.6 433.4M604.4 433.4L624.6 413.2" stroke="#8c564b" stroke-width="3.1" fill="none"/>
<path d="M604.4 414.8L624.6 435.0M604.4 435.0L624.6 414.8" stroke="#8c564b" stroke-width="3.1" fill="none"/>
<path d="M604.4 416.3L624.6 436.5M604.4 436.5L624.6 416.3" stroke="#8c564b" stroke-width="3.1" fill="none"/>
<path d="M604.4 417.9L624.6 438.1M604.4 438.1L624.6 417.9" stroke="#8c564b" stroke-width="3.1" fill="none"/>
<path d="M604.4 419.4L624.6 439.6M604.4 439.6L624.6 419.4" stroke="#8c564b" stroke-width="3.1" fill="none"/>
<path d="M604.4 438.5L624.6 458.7M604.4 458.7L624.6 438.5" stroke="#8c564b" stroke-width="3.1" fill="none"/>
<path d="M641.6 406.4L661.8 426.6M641.6 426.6L661.8 406.4" stroke="#8c564b" stroke-width="3.1" fill="none"/>
<path d="M641.6 407.9L661.8 428.2M641.6 428.2L661.8 407.9" stroke="#8c564b" stroke-width="3.1" fill="none"/>
<path d="M641.6 409.5L661.8 429.7M641.6 429.7L661.8 409.5" stroke="#8c564b" stroke-width="3.1" fill="none"/>
<path d="M641.6 411.0L661.8 431.2M641.6 431.2L661.8 411.0" stroke="#8c564b" stroke-width="3.1" fill="none"/>
<path d="M641.6 412.6L661.8 432.8M641.6 432.8L661.8 412.6" stroke="#8c564b" stroke-width="3.1" fill="none"/>
<path d="M641.6 414.1L661.8 434.4M641.6 434.4L661.8 414.1" stroke="#8c564b" stroke-width="3.1" fill="none"/>
<path d="M641.6 415.7L661.8 435.9M641.6 435.9L661.8 415.7" stroke="#8c564b" stroke-width="3.1" fill="none"/>
<path d="M641.6 417.2L661.8 437.5M641.6 437.5L661.8 417.2" stroke="#8c564b" stroke-width="3.1" fill="none"/>
<path d="M641.6 418.8L661.8 439.0M641.6 439.0L661.8 418.8" stroke="#8c564b" stroke-width="3.1" fill="none"/>
<path d="M641.6 420.3L661.8 440.6M641.6 440.6L661.8 420.3" stroke="#8c564b" stroke-width="3.1" fill="none"/>
<path d="M641.6 421.9L661.8 442.1M641.6 442.1L661.8 421.9" stroke="#8c564b" stroke-width="3.1" fill="none"/>
<path d="M700.5 410.2L720.7 430.4M700.5 430.4L720.7 410.2" stroke="#8c564b" stroke-width="3.1" fill="none"/>
<path d="M700.5 411.8L720.7 432.0M700.5 432.0L720.7 411.8" stroke="#8c564b" stroke-width="3.1" fill="none"/>
<path d="M700.5 413.4L720.7 433.6M700.5 433.6L720.7 413.4" stroke="#8c564b" stroke-width="3.1" fill="none"/>
<path d="M700.5 414.9L720.7 435.2M700.5 435.2L720.7 414.9" stroke="#8c564b" stroke-width="3.1" fill="none"/>
<path d="M700.5 416.5L720.7 436.7M700.5 436.7L720.7 416.5" stroke="#8c564b" stroke-width="3.1" fill="none"/>
<path d="M700.5 418.1L720.7 438.3M700.5 438.3L720.7 418.1" stroke="#8c564b" stroke-width="3.1" fill="none"/>
<path d="M700.5 419.7L720.7 439.9M700.5 439.9L720.7 419.7" stroke="#8c564b" stroke-width="3.1" fill="none"/>
<path d="M711.6 410.2L731.8 430.4M711.6 430.4L731.8 410.2" stroke="#8c564b" stroke-width="3.1" fill="none"/>
<path d="M711.6 411.8L731.8 432.0M711.6 432.0L731.8 411.8" stroke="#8c564b" stroke-width="3.1" fill="none"/>
<path d="M711.6 413.4L731.8 433.6M711.6 433.6L731.8 413.4" stroke="#8c564b" stroke-width="3.1" fill="none"/>
<path d="M711.6 414.9L731.8 435.2M711.6 435.2L731.8 414.9" stroke="#8c564b" stroke-width="3.1" fill="none"/>
<path d="M711.6 416.5L731.8 436.7M711.6 436.7L731.8 416.5" stroke="#8c564b" stroke-width="3.1" fill="none"/>
<path d="M711.6 418.1L731.8 438.3M711.6 438.3L731.8 418.1" stroke="#8c564b" stroke-width="3.1" fill="none"/>
<path d="M711.6 419.7L731.8 439.9M711.6 439.9L731.8 419.7" stroke="#8c564b" stroke-width="3.1" fill="none"/>
<path d="M782.9 414.5L803.1 434.7M782.9 434.7L803.1 414.5" stroke="#8c564b" stroke-width="4.7" fill="none"/>
<path d="M802.1 414.5L822.3 434.7M802.1 434.7L822.3 414.5" stroke="#8c564b" stroke-width="4.7" fill="none"/>
<path d="M845.1 414.5L865.3 434.7M845.1 434.7L865.3 414.5" stroke="#8c564b" stroke-width="4.7" fill="none"/>
<path d="M865.9 414.5L886.1 434.7M865.9 434.7L886.1 414.5" stroke="#8c564b" stroke-width="4.7" fill="none"/>
<path d="M884.4 414.5L904.6 434.7M884.4 434.7L904.6 414.5" stroke="#8c564b" stroke-width="4.7" fill="none"/>
<path d="M903.4 414.5L923.6 434.7M903.4 434.7L923.6 414.5" stroke="#8c564b" stroke-width="4.7" fill="none"/>
<path d="M1081.1 414.5L1101.3 434.7M1081.1 434.7L1101.3 414.5" stroke="#8c564b" stroke-width="4.7" fill="none"/>
<path d="M1095.5 414.5L1115.7 434.7M1095.5 434.7L1115.7 414.5" stroke="#8c564b" stroke-width="4.7" fill="none"/>
<path d="M910.4 414.5L930.6 434.7M910.4 434.7L930.6 414.5" stroke="#8c564b" stroke-width="4.5" fill="none"/>
<path d="M919.7 414.5L939.9 434.7M919.7 434.7L939.9 414.5" stroke="#8c564b" stroke-width="4.5" fill="none"/>
<path d="M943.1 414.5L963.3 434.7M943.1 434.7L963.3 414.5" stroke="#8c564b" stroke-width="4.5" fill="none"/>
<path d="M964.9 414.5L985.1 434.7M964.9 434.7L985.1 414.5" stroke="#8c564b" stroke-width="4.5" fill="none"/>
<path d="M968.9 414.5L989.1 434.7M968.9 434.7L989.1 414.5" stroke="#8c564b" stroke-width="4.5" fill="none"/>
<path d="M1002.9 414.5L1023.1 434.7M1002.9 434.7L1023.1 414.5" stroke="#8c564b" stroke-width="4.5" fill="none"/>
<path d="M1008.4 414.5L1028.6 434.7M1008.4 434.7L1028.6 414.5" stroke="#8c564b" stroke-width="4.5" fill="none"/>
<path d="M1062.9 414.5L1083.1 434.7M1062.9 434.7L1083.1 414.5" stroke="#8c564b" stroke-width="4.5" fill="none"/>
<path d="M1111.6 414.5L1131.8 434.7M1111.6 434.7L1131.8 414.5" stroke="#8c564b" stroke-width="4.5" fill="none"/>
<path d="M1194.5 414.5L1214.7 434.7M1194.5 434.7L1214.7 414.5" stroke="#8c564b" stroke-width="4.5" fill="none"/>
<path d="M1216.2 414.5L1236.4 434.7M1216.2 434.7L1236.4 414.5" stroke="#8c564b" stroke-width="4.5" fill="none"/>
<path d="M1222.7 414.5L1242.9 434.7M1222.7 434.7L1242.9 414.5" stroke="#8c564b" stroke-width="4.5" fill="none"/>
<path d="M1296.4 414.5L1316.6 434.7M1296.4 434.7L1316.6 414.5" stroke="#8c564b" stroke-width="4.5" fill="none"/>
<path d="M1333.3 414.5L1353.5 434.7M1333.3 434.7L1353.5 414.5" stroke="#8c564b" stroke-width="4.5" fill="none"/>
<path d="M903.4 423.8L923.6 444.0M903.4 444.0L923.6 423.8" stroke="#8c564b" stroke-width="3.1" fill="none"/>
<path d="M1141.4 414.5L1161.6 434.7M1141.4 434.7L1161.6 414.5" stroke="#8c564b" stroke-width="3.6" fill="none"/>
<path d="M1144.5 414.5L1164.7 434.7M1144.5 434.7L1164.7 414.5" stroke="#8c564b" stroke-width="3.6" fill="none"/>
<path d="M1150.7 414.5L1170.9 434.7M1150.7 434.7L1170.9 414.5" stroke="#8c564b" stroke-width="3.6" fill="none"/>
</g>
<rect x="263.0" y="70.0" width="1162.0" height="578.0" fill="none" stroke="#000" stroke-width="4"/>
<text x="298.71" y="722.3" font-size="63.7" textLength="35.30" lengthAdjust="spacingAndGlyphs">0</text>
<text x="502.32" y="722.3" font-size="63.7" textLength="35.18" lengthAdjust="spacingAndGlyphs">2</text>
<text x="709.55" y="722.3" font-size="63.7" textLength="33.70" lengthAdjust="spacingAndGlyphs">4</text>
<text x="912.21" y="722.3" font-size="63.7" textLength="36.48" lengthAdjust="spacingAndGlyphs">6</text>
<text x="1117.45" y="722.3" font-size="63.7" textLength="36.01" lengthAdjust="spacingAndGlyphs">8</text>
<text x="1304.56" y="722.3" font-size="63.7" textLength="72.87" lengthAdjust="spacingAndGlyphs">10</text>
<text x="160.64" y="222.3" font-size="63.7" textLength="72.15" lengthAdjust="spacingAndGlyphs">20</text>
<text x="198.05" y="448.4" font-size="63.7" textLength="34.83" lengthAdjust="spacingAndGlyphs">0</text>
<text x="667.20" y="821.8" font-size="63" textLength="255.14" lengthAdjust="spacingAndGlyphs">Distance</text>
<text transform="translate(941.73,817.70) scale(0.8188,0.895)" font-size="63">(</text>
<text x="963.40" y="821.8" font-size="63" textLength="39.23" lengthAdjust="spacingAndGlyphs">Å</text>
<text transform="translate(1006.97,817.70) scale(0.8313,0.895)" font-size="63">)</text>
<text transform="translate(113.1,658.08) rotate(-90)" font-size="63" textLength="279.42" lengthAdjust="spacingAndGlyphs">Harmonic</text>
<text transform="translate(113.1,358.77) rotate(-90)" font-size="63" textLength="73.38" lengthAdjust="spacingAndGlyphs">FC</text>
<text transform="translate(109.00,265.08) rotate(-90) scale(0.8188,0.895)" font-size="63">(</text>
<text transform="translate(113.1,243.86) rotate(-90)" font-size="63" textLength="134.75" lengthAdjust="spacingAndGlyphs">eV/Å</text>
<text transform="translate(90.1,106.89) rotate(-90)" font-size="44" textLength="23.14" lengthAdjust="spacingAndGlyphs">2</text>
<text transform="translate(109.00,76.92) rotate(-90) scale(0.8187,0.895)" font-size="63">)</text>
<rect x="1446.1" y="91.1" width="212.8" height="492.5" fill="#fff" stroke="#8c8c8c" stroke-width="2.1"/>
<circle cx="1484.6" cy="124.5" r="9.65" stroke="#1f77b4" stroke-width="2.8" fill="none"/>
<text x="1521.12" y="139.2" font-size="44.2" textLength="115.62" lengthAdjust="spacingAndGlyphs">Cs-Cs</text>
<path d="M1484.6 167.2L1474.8 186.8L1494.4 186.8Z" stroke="#ff7f0e" stroke-width="2.8" fill="none"/>
<text x="1521.08" y="191.7" font-size="44.2" textLength="117.68" lengthAdjust="spacingAndGlyphs">Cs-Sn</text>
<rect x="1474.8" y="219.7" width="19.6" height="19.6" stroke="#2ca02c" stroke-width="2.8" fill="none"/>
<text x="1521.08" y="244.2" font-size="44.2" textLength="98.82" lengthAdjust="spacingAndGlyphs">Cs-O</text>
<path d="M1484.6 272.2L1474.8 291.8L1494.4 291.8Z" stroke="#ff7f0e" stroke-width="2.8" fill="none"/>
<text x="1522.29" y="296.7" font-size="44.2" textLength="117.31" lengthAdjust="spacingAndGlyphs">Sn-Cs</text>
<path d="M1484.6 320.9L1498.2 334.5L1484.6 348.1L1471.0 334.5Z" stroke="#d62728" stroke-width="2.8" fill="none"/>
<text x="1522.26" y="349.2" font-size="44.2" textLength="119.38" lengthAdjust="spacingAndGlyphs">Sn-Sn</text>
<path d="M1484.6 396.8L1474.8 377.2L1494.4 377.2Z" stroke="#9467bd" stroke-width="2.8" fill="none"/>
<text x="1522.24" y="401.7" font-size="44.2" textLength="100.85" lengthAdjust="spacingAndGlyphs">Sn-O</text>
<rect x="1474.8" y="429.7" width="19.6" height="19.6" stroke="#2ca02c" stroke-width="2.8" fill="none"/>
<text x="1521.09" y="454.2" font-size="44.2" textLength="98.25" lengthAdjust="spacingAndGlyphs">O-Cs</text>
<path d="M1484.6 501.8L1474.8 482.2L1494.4 482.2Z" stroke="#9467bd" stroke-width="2.8" fill="none"/>
<text x="1520.93" y="506.7" font-size="44.2" textLength="101.77" lengthAdjust="spacingAndGlyphs">O-Sn</text>
<path d="M1474.5 534.4L1494.7 554.6M1474.5 554.6L1494.7 534.4" stroke="#8c564b" stroke-width="2.8" fill="none"/>
<text x="1520.92" y="559.2" font-size="44.2" textLength="82.62" lengthAdjust="spacingAndGlyphs">O-O</text>
</svg></body></html>
